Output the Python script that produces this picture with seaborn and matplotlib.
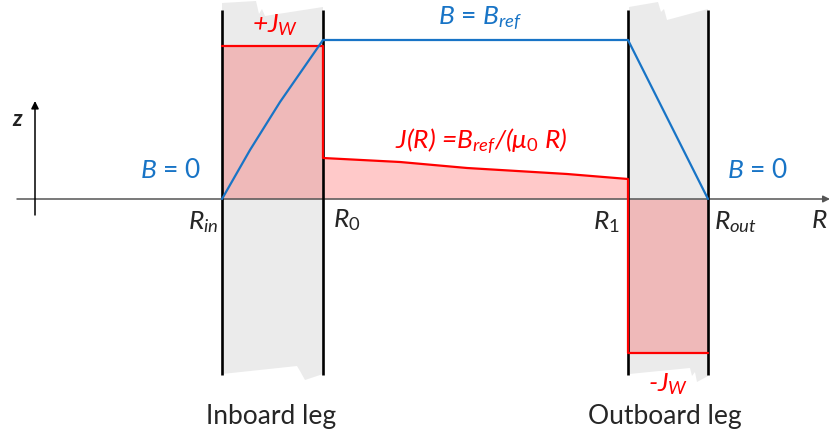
import matplotlib
matplotlib.use("Agg")
import matplotlib.pyplot as plt
import seaborn as sns
import pandas as pd
import numpy as np

# Radial positions of the leg edges (schematic units, axis at z = 0)
R_in, R_0, R_1, R_out = 222, 323, 628, 708

# Magnetic field profile B(R)
B_R = [222, 250, 280, 323, 628, 708]
B_val = [0, 49, 97, 159, 159, 0]

# Current density profile J(R)
J_R = [222, 323, 323, 400, 467, 567, 628, 628, 708]
J_val = [153, 153, 41, 37, 31, 25, 20, -154, -154]

sns.set_theme(style="white")
plt.rcParams["font.family"] = ["Lato", "DejaVu Sans"]
plt.rcParams["mathtext.fontset"] = "custom"
plt.rcParams["mathtext.rm"] = "Lato"
plt.rcParams["mathtext.it"] = "Lato:italic"
plt.rcParams["mathtext.bf"] = "Lato:bold"

BLUE = "#1874C6"
RED = "#FF0000"

fig = plt.figure(figsize=(8.3, 4.36), dpi=100)
ax = fig.add_axes([0, 0, 1, 1])
ax.set_xlim(0, 830)
ax.set_ylim(-237, 199)
ax.axis("off")


def up(py):
    return 199 - np.asarray(py, dtype=float)


# Leg cross-sections (grey, with torn edges)
inboard = [(222, 3), (256, 1), (259, 14), (262, 9), (265, 16), (323, 7),
           (323, 374), (305, 380), (300, 371), (297, 366), (222, 374)]
outboard = [(629, 7), (658, 2), (661, 12), (664, 9), (667, 20), (708, 9),
            (708, 376), (697, 382), (695, 372), (692, 376), (690, 368), (629, 374)]
for shape in (inboard, outboard):
    xs, ys = zip(*shape)
    ax.fill(xs, up(ys), color="#EBEBEB", lw=0, zorder=1)

# Leg boundaries
for xr in (R_in, R_0, R_1, R_out):
    ax.plot([xr, xr], up([10, 375]), color="black", lw=1.9, zorder=3,
            solid_capstyle="butt")

# Current density fill and outline
jdf = pd.DataFrame({"R": J_R, "J": J_val})
ax.fill_between(jdf["R"], 0, jdf["J"], color=RED, alpha=0.21, lw=0, zorder=2)
sns.lineplot(data=jdf, x="R", y="J", sort=False, estimator=None,
             color=RED, lw=1.6, ax=ax, zorder=4)

# Field profile
bdf = pd.DataFrame({"R": B_R, "B": B_val})
sns.lineplot(data=bdf, x="R", y="B", sort=False, estimator=None,
             color=BLUE, lw=1.6, ax=ax, zorder=5)
ax.set_xlabel("")
ax.set_ylabel("")

# Coordinate axes
ax.annotate("", xy=(830, 0), xytext=(17, 0),
            arrowprops=dict(arrowstyle="-|>", color="#555555", lw=1.1,
                            mutation_scale=10, shrinkA=0, shrinkB=0), zorder=2.5)
ax.annotate("", xy=(35, up(101)), xytext=(35, up(215)),
            arrowprops=dict(arrowstyle="-|>", color="black", lw=1.1,
                            mutation_scale=11, shrinkA=0, shrinkB=0), zorder=3)
ax.text(17, up(119), "z", fontsize=16, ha="center", va="center",
        fontweight="bold", fontstyle="italic", color="#222222")

# Labels
fs = 19
ax.text(275, up(25), r"+$J_W$", color=RED, fontsize=fs, ha="center", va="center",
        fontstyle="italic")
ax.text(668, up(384), r"-$J_W$", color=RED, fontsize=fs, ha="center", va="center",
        fontstyle="italic")
ax.text(480, up(18), r"$B$ = $B_{ref}$", color=BLUE, fontsize=fs,
        ha="center", va="center")
ax.text(171, up(170), r"$B$ = 0", color=BLUE, fontsize=fs, ha="center", va="center")
ax.text(758, up(170), r"$B$ = 0", color=BLUE, fontsize=fs, ha="center", va="center")
ax.text(481, up(141), r"$J$($R$) =$B_{ref}$/($\mu_0$ $R$)", color=RED, fontsize=fs,
        ha="center", va="center", fontstyle="italic")

ax.text(218, up(222), r"$R_{in}$", fontsize=fs, ha="right", va="center")
ax.text(333, up(220), r"$R_0$", fontsize=fs, ha="left", va="center")
ax.text(620, up(222), r"$R_1$", fontsize=fs, ha="right", va="center")
ax.text(714, up(222), r"$R_{out}$", fontsize=fs, ha="left", va="center")
ax.text(819, up(220), r"$R$", fontsize=fs, ha="center", va="center")

ax.text(271, up(416), "Inboard leg", fontsize=19, ha="center", va="center")
ax.text(665, up(416), "Outboard leg", fontsize=19, ha="center", va="center")

fig.savefig("out.png", dpi=100)
